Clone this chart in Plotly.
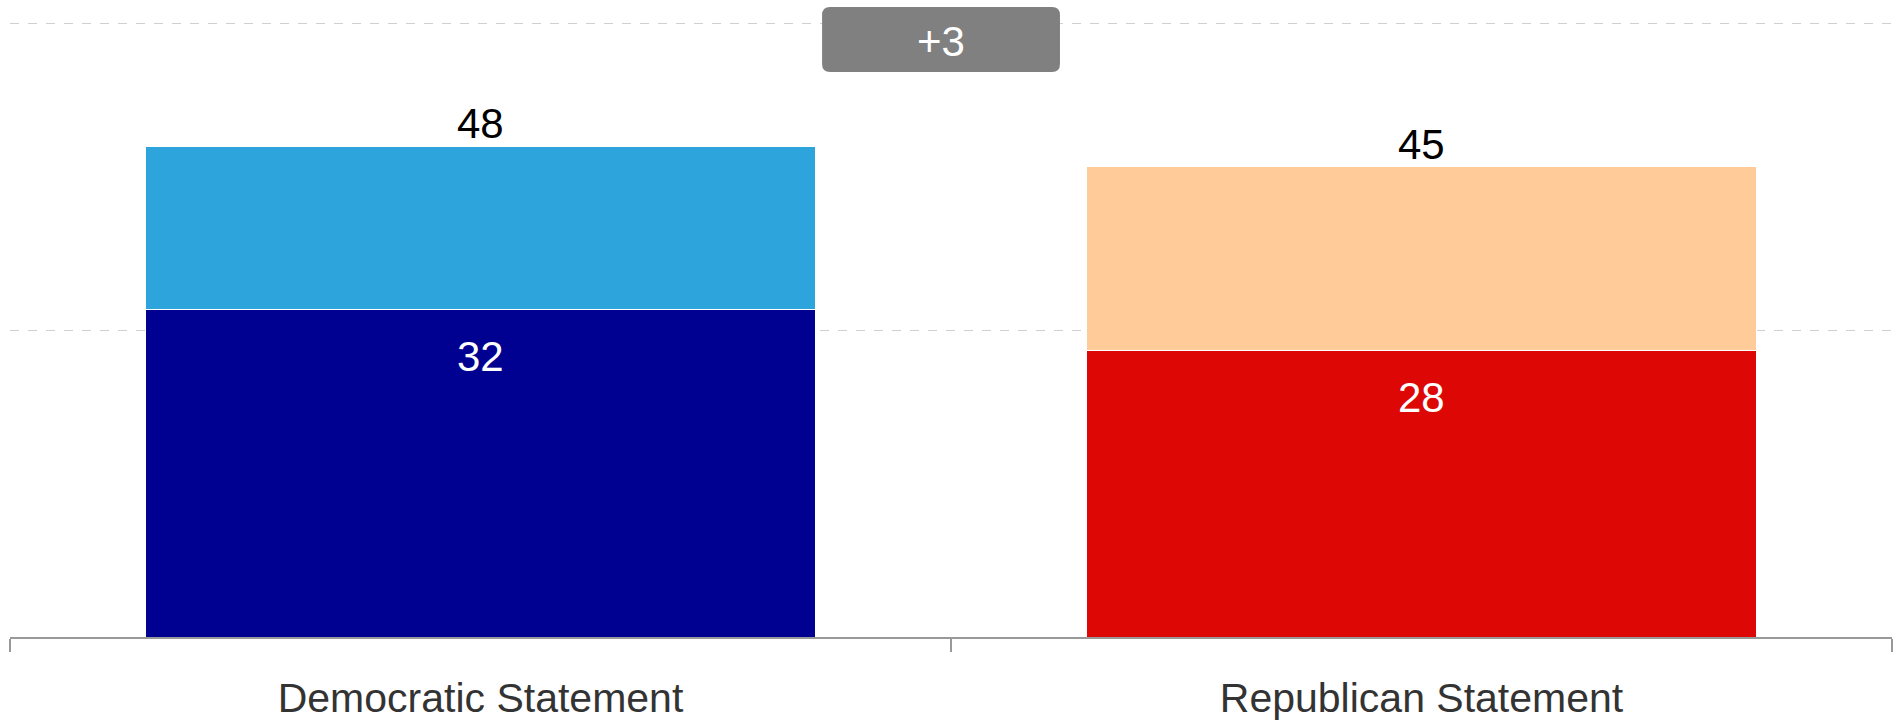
# stacked bars comparing two statements

import plotly.graph_objects as go

categories = ["Democratic Statement", "Republican Statement"]
base_values = [32, 28]
top_values = [16, 18]
total_labels = ["48", "45"]
base_colors = ["#000091", "#DD0806"]
top_colors = ["#2DA5DC", "#FFCC99"]
gap_label = "+3"
grid_values = [30, 60]

font = "Liberation Sans, Arial, sans-serif"

fig = go.Figure()

fig.add_trace(go.Bar(
    x=categories,
    y=base_values,
    marker=dict(color=base_colors, line=dict(color="white", width=1)),
    hoverinfo="skip",
))
fig.add_trace(go.Bar(
    x=categories,
    y=top_values,
    marker=dict(color=top_colors, line=dict(color="white", width=1)),
    hoverinfo="skip",
))

# white values inside the lower segments
for cat, v in zip(categories, base_values):
    fig.add_annotation(x=cat, y=v, text=str(v), showarrow=False,
                       yanchor="top", yshift=-21,
                       font=dict(family=font, size=42, color="white"))

# totals above the bars
for cat, b, t, lab in zip(categories, base_values, top_values, total_labels):
    fig.add_annotation(x=cat, y=b + t, text=lab, showarrow=False,
                       yanchor="bottom", yshift=-3,
                       font=dict(family=font, size=42, color="black"))

# gap badge at the top (rounded box)
x0, x1, y0, y1 = 0.4315, 0.5579, 0.887, 0.989
rx, ry = 0.00425, 0.0126
badge = (f"M {x0+rx},{y1} L {x1-rx},{y1} Q {x1},{y1} {x1},{y1-ry} "
         f"L {x1},{y0+ry} Q {x1},{y0} {x1-rx},{y0} L {x0+rx},{y0} "
         f"Q {x0},{y0} {x0},{y0+ry} L {x0},{y1-ry} Q {x0},{y1} {x0+rx},{y1} Z")
fig.add_shape(type="path", xref="paper", yref="paper", layer="above",
              path=badge, fillcolor="#808080", line=dict(width=0))
fig.add_annotation(xref="paper", yref="paper", x=0.4947, y=0.935, text=gap_label,
                   showarrow=False, xanchor="center", yanchor="middle",
                   font=dict(family=font, size=42, color="white"))

fig.update_layout(
    barmode="stack",
    bargap=0.288,
    showlegend=False,
    width=1898,
    height=720,
    margin=dict(l=10, r=6, t=0, b=83),
    paper_bgcolor="white",
    plot_bgcolor="white",
    font=dict(family=font),
    xaxis=dict(
        showline=True, linecolor="#999999", linewidth=2,
        ticks="outside", tickson="boundaries", ticklen=13, tickwidth=2, tickcolor="#999999",
        tickfont=dict(family=font, size=41, color="#333333"),
        ticklabelstandoff=24,
        showgrid=False,
    ),
    yaxis=dict(
        range=[0, 62.3],
        tickvals=grid_values,
        showticklabels=False,
        showgrid=True, gridcolor="#d0d0d0", griddash="dash", gridwidth=1,
        zeroline=False,
    ),
)

fig.write_html("out.html", config={"displayModeBar": False},
               post_script="document.body.style.margin='0';")
